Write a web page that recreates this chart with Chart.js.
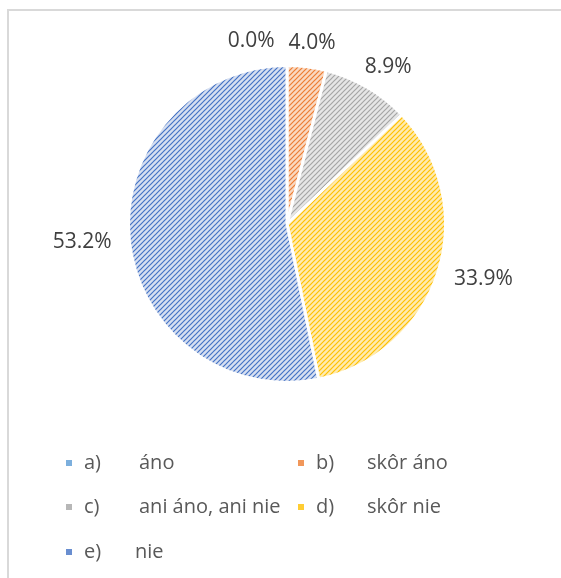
<!DOCTYPE html>
<html>
<head>
<meta charset="utf-8">
<script src="https://cdn.jsdelivr.net/npm/chart.js@4"></script>
<style>
  html, body { margin: 0; padding: 0; background: #fff; }
  #wrap { position: relative; width: 561px; height: 578px; }
</style>
</head>
<body>
<div id="wrap"><canvas id="chart-pie" width="561" height="578"></canvas></div>
<script>
// data
const letters = ['a)', 'b)', 'c)', 'd)', 'e)'];
const names = ['áno', 'skôr áno', 'ani áno, ani nie', 'skôr nie', 'nie'];
const shares = [0.0, 4.0, 8.9, 33.9, 53.2];

const lineColors = ['#5b9bd5', '#ed7d31', '#a5a5a5', '#ffc000', '#4472c4'];
const fillColors = ['#d6e5f4', '#fad8c1', '#e6e6e6', '#ffebb0', '#d6dff1'];

const canvas = document.getElementById('chart-pie');
const ctx = canvas.getContext('2d');

// diagonal stripe pattern like Excel's "wide upward diagonal"
const stripes = (bg, fg) => {
  const tile = document.createElement('canvas');
  tile.width = tile.height = 5;
  const g = tile.getContext('2d');
  g.fillStyle = bg;
  g.fillRect(0, 0, 5, 5);
  g.strokeStyle = fg;
  g.lineWidth = 1.2;
  g.beginPath();
  g.moveTo(-1, 6); g.lineTo(6, -1);
  g.moveTo(-3.5, 3.5); g.lineTo(3.5, -3.5);
  g.moveTo(1.5, 8.5); g.lineTo(8.5, 1.5);
  g.stroke();
  return ctx.createPattern(tile, 'repeat');
};
const patterns = lineColors.map((c, i) => stripes(fillColors[i], c));

const frame = {
  id: 'frame',
  beforeDraw(chart) {
    const c = chart.ctx;
    c.save();
    c.fillStyle = '#fff';
    c.fillRect(0, 0, chart.width, chart.height);
    c.fillStyle = '#d9d9d9';
    c.fillRect(7, 9, chart.width - 7, 2);
    c.fillRect(7, 9, 2, chart.height - 9);
    c.restore();
  }
};

const valueLabels = {
  id: 'valueLabels',
  afterDatasetsDraw(chart) {
    const c = chart.ctx;
    const arcs = chart.getDatasetMeta(0).data;
    c.save();
    c.font = '21px "Open Sans"';
    c.fillStyle = '#404040';
    c.textAlign = 'center';
    c.textBaseline = 'middle';
    const placed = [];
    for (let i = arcs.length - 1; i >= 0; i--) {
      const a = arcs[i].getProps(['x', 'y', 'startAngle', 'endAngle', 'outerRadius'], true);
      const text = shares[i].toFixed(1) + '%';
      const hw = c.measureText(text).width / 2;
      const hh = 12;
      const mid = (a.startAngle + a.endAngle) / 2;
      const dx = Math.cos(mid), dy = Math.sin(mid);
      const r = a.outerRadius + 18;
      let x = a.x + dx * r + dx * hw;
      let y = a.y + dy * r + dy * 6;
      placed.forEach(p => {
        if (Math.abs(p.y - y) < 2 * hh && Math.abs(p.x - x) < hw + p.hw + 14) {
          x = p.x - p.hw - hw - 14;
        }
      });
      placed.push({ x, y, hw });
      c.fillText(text, x, y);
    }
    c.restore();
  }
};

const gridLegend = {
  id: 'gridLegend',
  afterDraw(chart) {
    const c = chart.ctx;
    const colX = [66, 298];
    const rowY = [463, 507, 552];
    c.save();
    c.font = '20px "Open Sans"';
    c.textBaseline = 'middle';
    letters.forEach((l, i) => {
      const x = colX[i % 2];
      const y = rowY[Math.floor(i / 2)];
      c.globalAlpha = 0.8;
      c.fillStyle = lineColors[i];
      c.fillRect(x, y - 3, 6, 6);
      c.globalAlpha = 1;
      c.fillStyle = '#595959';
      c.fillText(l, x + 18, y);
      c.fillText(names[i], x + (i % 2 ? 69 : 73) - (i === 4 ? 4 : 0), y);
    });
    c.restore();
  }
};

new Chart(canvas, {
  type: 'pie',
  data: {
    labels: names,
    datasets: [{
      data: shares,
      backgroundColor: patterns,
      borderColor: '#ffffff',
      borderWidth: 3
    }]
  },
  options: {
    responsive: false,
    animation: false,
    layout: { padding: { left: 127, right: 114, top: 64, bottom: 194 } },
    plugins: {
      legend: { display: false },
      tooltip: { enabled: false }
    }
  },
  plugins: [frame, valueLabels, gridLegend]
});
</script>
</body>
</html>
